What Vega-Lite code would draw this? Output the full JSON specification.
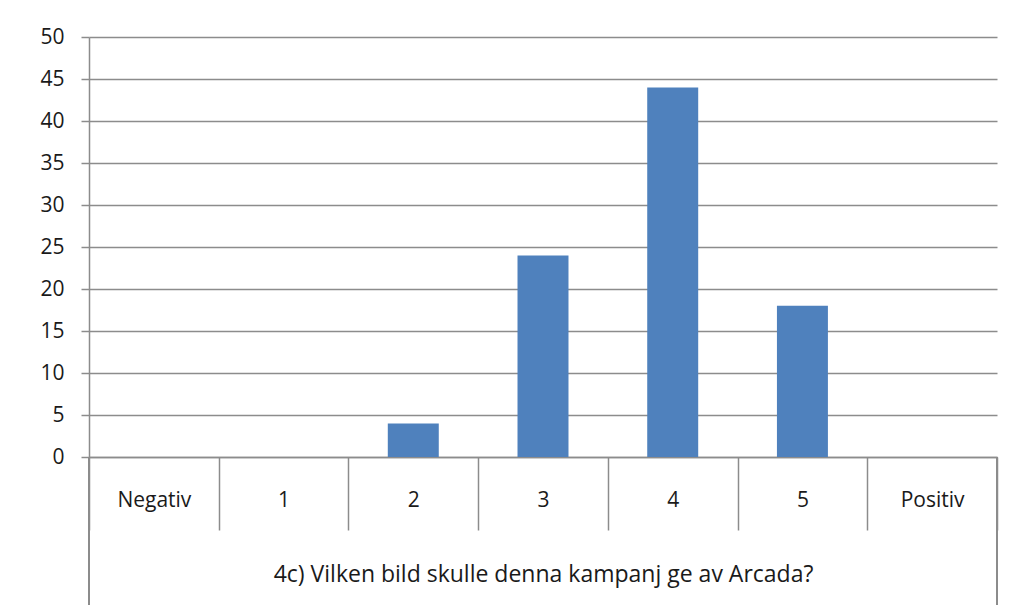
{
  "$schema": "https://vega.github.io/schema/vega-lite/v6.json",
  "autosize": "none",
  "width": 908,
  "height": 420,
  "padding": {"left": 89, "top": 37, "right": 17, "bottom": 155},
  "background": "white",
  "config": {
    "view": {"stroke": null},
    "font": "Open Sans",
    "axis": {"labelFont": "Open Sans", "titleFont": "Open Sans", "labelColor": "#1a1a1a", "titleColor": "#1a1a1a"}
  },
  "data": {
    "values": [
      {"kategori": "Negativ", "antal": 0},
      {"kategori": "1", "antal": 0},
      {"kategori": "2", "antal": 4},
      {"kategori": "3", "antal": 24},
      {"kategori": "4", "antal": 44},
      {"kategori": "5", "antal": 18},
      {"kategori": "Positiv", "antal": 0}
    ]
  },
  "layer": [
    {
      "mark": {"type": "bar", "width": {"band": 0.393}, "color": "#4F81BD"},
      "encoding": {
        "x": {
          "field": "kategori", "type": "nominal", "sort": null,
          "scale": {"paddingInner": 0, "paddingOuter": 0},
          "axis": {
            "title": "4c) Vilken bild skulle denna kampanj ge av Arcada?",
            "titleFontSize": 23, "titleFontWeight": "normal", "titlePadding": 33,
            "labelAngle": 0, "labelFontSize": 21, "labelBaseline": "middle",
            "labelPadding": -30,
            "tickBand": "extent", "tickSize": 73, "tickColor": "#8C8C8C", "tickWidth": 1.5,
            "domainColor": "#8C8C8C", "domainWidth": 1.5, "grid": false
          }
        },
        "y": {
          "field": "antal", "type": "quantitative",
          "scale": {"domain": [0, 50], "nice": false},
          "axis": {
            "title": null, "values": [0, 5, 10, 15, 20, 25, 30, 35, 40, 45, 50],
            "labelFontSize": 21, "labelPadding": 17, "tickSize": 8,
            "tickColor": "#8C8C8C", "tickWidth": 1.5,
            "domainColor": "#8C8C8C", "domainWidth": 1.5,
            "grid": true, "gridColor": "#8C8C8C", "gridWidth": 1.5
          }
        }
      }
    },
    {
      "mark": {"type": "rule", "color": "#8C8C8C", "strokeWidth": 1.5},
      "encoding": {
        "x": {"datum": "Negativ", "type": "nominal", "bandPosition": 0},
        "y": {"datum": 0, "type": "quantitative"},
        "y2": {"datum": -17.6}
      }
    },
    {
      "mark": {"type": "rule", "color": "#8C8C8C", "strokeWidth": 1.5},
      "encoding": {
        "x": {"datum": "Positiv", "type": "nominal", "bandPosition": 1},
        "y": {"datum": 0, "type": "quantitative"},
        "y2": {"datum": -17.6}
      }
    }
  ]
}
